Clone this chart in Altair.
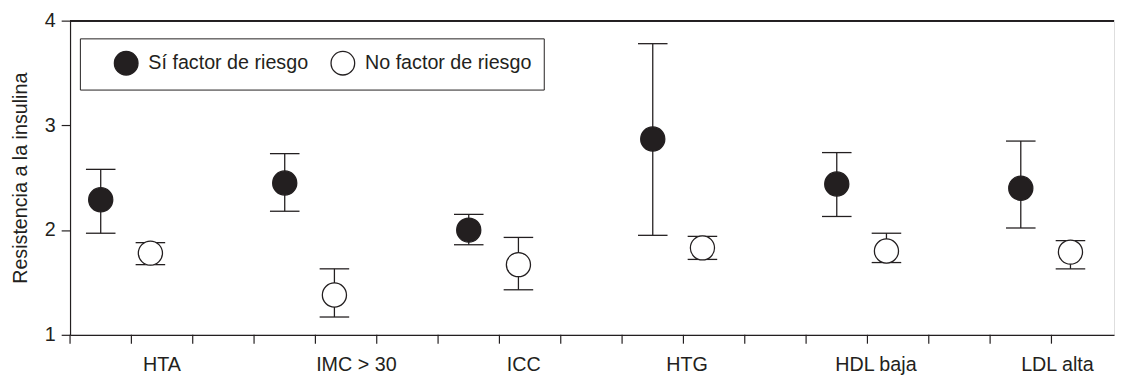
import altair as alt
import pandas as pd

# ---- data ----
categories = ["HTA", "IMC > 30", "ICC", "HTG", "HDL baja", "LDL alta"]
series = ["Sí factor de riesgo", "No factor de riesgo"]

si_mean = [2.29, 2.45, 2.00, 2.87, 2.44, 2.40]
si_low = [1.97, 2.18, 1.86, 1.95, 2.13, 2.02]
si_high = [2.58, 2.73, 2.15, 3.78, 2.74, 2.85]

no_mean = [1.78, 1.38, 1.67, 1.83, 1.80, 1.79]
no_low = [1.67, 1.17, 1.43, 1.72, 1.69, 1.63]
no_high = [1.88, 1.63, 1.93, 1.94, 1.97, 1.90]

y_ticks = [1, 2, 3, 4]

# ---- layout constants (axis units) ----
GROUP_STEP = 3
OFFSETS = {series[0]: 0.5, series[1]: 1.31}
LABEL_POS = [1.49, 4.66, 7.39, 10.05, 13.13, 16.09]
X_TICKS = list(range(17))
X_MAX = 17.02
PLOT_W = 1060

INK = "#231f20"
FONT = "Liberation Sans"

rows = []
for i, cat in enumerate(categories):
    for s, m, lo, hi in [
        (series[0], si_mean[i], si_low[i], si_high[i]),
        (series[1], no_mean[i], no_low[i], no_high[i]),
    ]:
        rows.append(dict(cat=cat, serie=s, x=GROUP_STEP * i + OFFSETS[s], m=m, lo=lo, hi=hi))
df = pd.DataFrame(rows)
ticks_df = pd.DataFrame({"x": X_TICKS})

xscale = alt.Scale(domain=[0, X_MAX], nice=False, zero=False)
yscale = alt.Scale(domain=[1, 4], nice=False, zero=False)

label_expr = " : ".join(
    f"abs(datum.value - {p}) < 0.001 ? '{c}'" for p, c in zip(LABEL_POS, categories)
) + " : ''"

x_axis = alt.Axis(
    orient="bottom", values=LABEL_POS, labelExpr=label_expr, ticks=False,
    title=None, grid=False, labelFlush=False, labelOverlap=False,
    domainColor=INK, domainWidth=1.2,
    labelPadding=20, labelFontSize=20, labelFont=FONT, labelColor=INK,
)
y_axis = alt.Axis(
    values=y_ticks, format="d", title="Resistencia a la insulina", grid=False,
    tickSize=9, tickWidth=1.2, tickColor=INK, domainColor=INK, domainWidth=1.2,
    labelFontSize=20, labelFont=FONT, labelColor=INK, labelPadding=6,
    titleFontSize=20, titleFont=FONT, titleColor=INK, titleFontWeight="normal",
    titlePadding=14,
)

X = alt.X("x:Q", scale=xscale, axis=x_axis)

base = alt.Chart(df)

bars = base.mark_rule(color=INK, strokeWidth=1.3).encode(
    x=X, y=alt.Y("lo:Q", scale=yscale, axis=y_axis), y2="hi:Q"
)
cap_lo = base.mark_tick(orient="horizontal", size=30, thickness=1.3, color=INK, opacity=1).encode(
    x=X, y=alt.Y("lo:Q", scale=yscale, axis=y_axis)
)
cap_hi = base.mark_tick(orient="horizontal", size=30, thickness=1.3, color=INK, opacity=1).encode(
    x=X, y=alt.Y("hi:Q", scale=yscale, axis=y_axis)
)
pts = base.mark_point(filled=True, size=600, stroke=INK, strokeWidth=1.3, opacity=1).encode(
    x=X,
    y=alt.Y("m:Q", scale=yscale, axis=y_axis),
    fill=alt.Fill(
        "serie:N",
        scale=alt.Scale(domain=series, range=[INK, "white"]),
        legend=alt.Legend(
            title=None, orient="none", legendX=10, legendY=18, direction="horizontal",
            symbolType="circle", symbolSize=576, symbolStrokeColor=INK, symbolStrokeWidth=1.3,
            symbolOffset=22, labelOffset=9.5, columnPadding=-3, labelLimit=0,
            labelFontSize=20, labelFont=FONT, labelColor=INK,
            padding=12, strokeColor=INK,
        ),
    ),
)
top = alt.Chart(df).mark_rule(color=INK, strokeWidth=1.2).encode(
    y=alt.datum(4, scale=yscale, axis=y_axis)
)
# x-axis tick marks (between the category labels), hanging below the axis line
xticks = alt.Chart(ticks_df).mark_rule(color=INK, strokeWidth=1.2, y2Offset=9).encode(
    x=X,
    y=alt.datum(1, scale=yscale, axis=y_axis),
    y2=alt.datum(1),
)

chart = (
    alt.layer(top, xticks, bars, cap_lo, cap_hi, pts)
    .properties(width=PLOT_W, height=319, padding={"left": 2, "top": 0, "right": 0, "bottom": 0})
    .configure_view(strokeWidth=0, stroke="transparent")
    .configure(background="white", font=FONT)
)

chart.save("out.html", embed_options={"renderer": "svg", "actions": False})
